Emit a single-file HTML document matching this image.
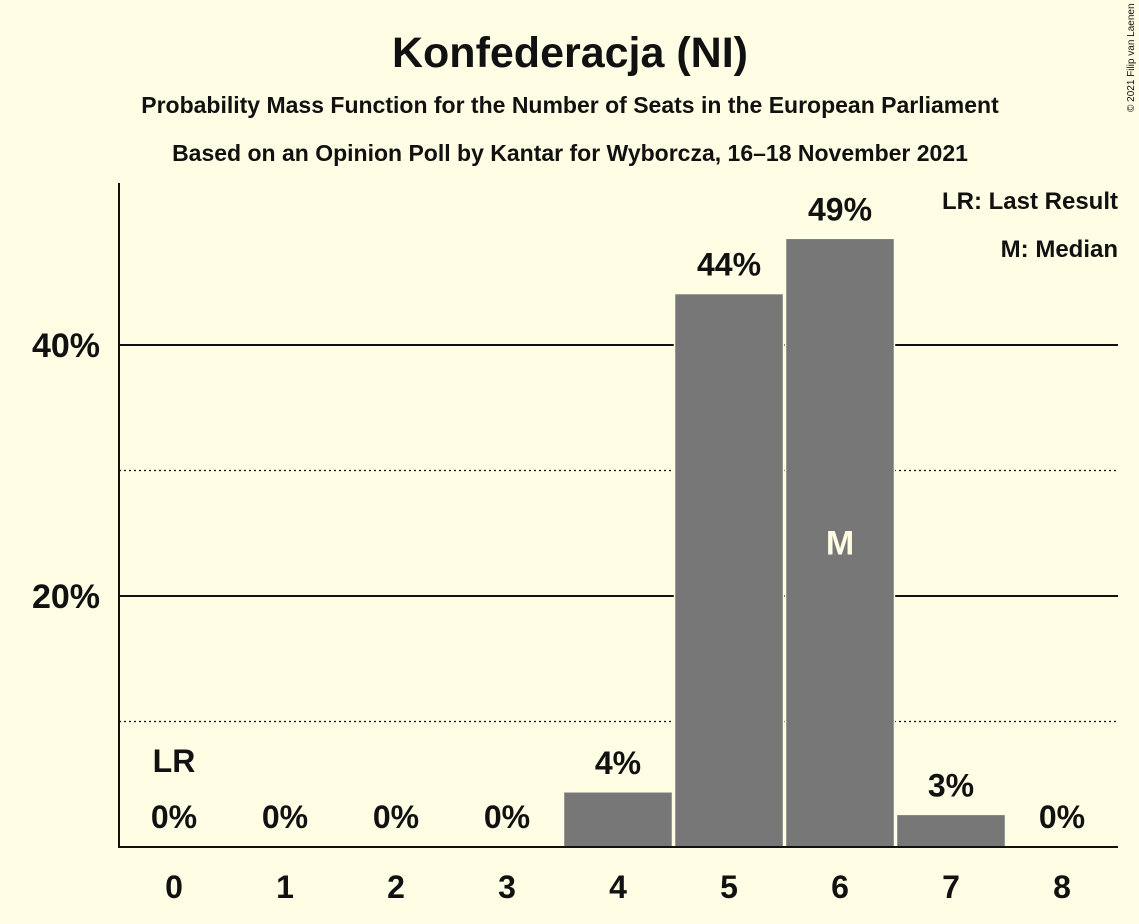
<!DOCTYPE html>
<html><head><meta charset="utf-8"><style>
body{margin:0;background:#FFFDE4;}
svg{display:block;font-family:"Liberation Sans",sans-serif;}
</style></head><body>
<svg id="chart" width="1139" height="924">
<rect width="1139" height="924" fill="#FFFDE4"/>
<text x="570" y="67" text-anchor="middle" font-size="43" font-weight="bold" fill="#111">Konfederacja (NI)</text>
<text x="570" y="113" text-anchor="middle" font-size="23" font-weight="bold" fill="#111">Probability Mass Function for the Number of Seats in the European Parliament</text>
<text x="570" y="161" text-anchor="middle" font-size="23" font-weight="bold" fill="#111">Based on an Opinion Poll by Kantar for Wyborcza, 16–18 November 2021</text>
<text transform="translate(1134,112) rotate(-90)" font-size="10" fill="#111">© 2021 Filip van Laenen</text>
<g id="grid"></g>
<g id="bars"></g>
<g id="labels"></g>
<line x1="119" y1="183" x2="119" y2="848" stroke="#111" stroke-width="2"/>
<line x1="118" y1="847" x2="1118" y2="847" stroke="#111" stroke-width="2"/>
<text x="1118" y="209" text-anchor="end" font-size="24" font-weight="bold" fill="#111">LR: Last Result</text>
<text x="1118" y="257" text-anchor="end" font-size="24" font-weight="bold" fill="#111">M: Median</text>
</svg>
<script>
const categories=[0,1,2,3,4,5,6,7,8];
const values=[0,0,0,0,4.4,44.1,48.5,2.6,0];
const valueLabels=["0%","0%","0%","0%","4%","44%","49%","3%","0%"];
const yTicks=[20,40];
const yMinorTicks=[10,30];
const yTickLabels=["20%","40%"];
const lastResult=0, median=6;
const NS="http://www.w3.org/2000/svg";
const y=v=>847-v*12.55;
const x=c=>174+c*111;
const bw=109;
function mk(tag,attrs,parent){const e=document.createElementNS(NS,tag);for(const k in attrs)e.setAttribute(k,attrs[k]);document.getElementById(parent).appendChild(e);return e;}
yMinorTicks.forEach(t=>{
 const l=mk('line',{x1:119,x2:1118,y1:y(t),y2:y(t),stroke:'#111','stroke-width':1.3,'stroke-dasharray':'2,3'},'grid');
 
 
});
yTicks.forEach((t,i)=>{
 const l=mk('line',{x1:119,x2:1118,y1:y(t),y2:y(t),stroke:'#111','stroke-width':2},'grid');
 
 
 const tx=mk('text',{x:100,y:y(t)+12,'text-anchor':'end','font-size':34,'font-weight':'bold',fill:'#111'},'labels');
 tx.textContent=yTickLabels[i];
 
 
});
categories.forEach((c,i)=>{
 const v=values[i];
 if(v>0){
  const r=mk('rect',{x:x(c)-bw/2,y:y(v),width:bw,height:847-y(v),fill:'#777',stroke:'#FFFDE4','stroke-width':1.5},'bars');
  
  
 }
 const vl=mk('text',{x:x(c),y:(v>0?y(v)-18:828),'text-anchor':'middle','font-size':32,'font-weight':'bold',fill:'#111'},'labels');
 vl.textContent=valueLabels[i];
 
 
 const xl=mk('text',{x:x(c),y:898,'text-anchor':'middle','font-size':32,'font-weight':'bold',fill:'#111'},'labels');
 xl.textContent=c;
 
 
});
const lr=mk('text',{x:x(lastResult),y:772,'text-anchor':'middle','font-size':32,'font-weight':'bold',fill:'#111'},'labels');
lr.textContent='LR';


const m=mk('text',{x:x(median),y:y(values[median]/2)+12,'text-anchor':'middle','font-size':34,'font-weight':'bold',fill:'#FFFDE4'},'labels');
m.textContent='M';


</script>
</body></html>
